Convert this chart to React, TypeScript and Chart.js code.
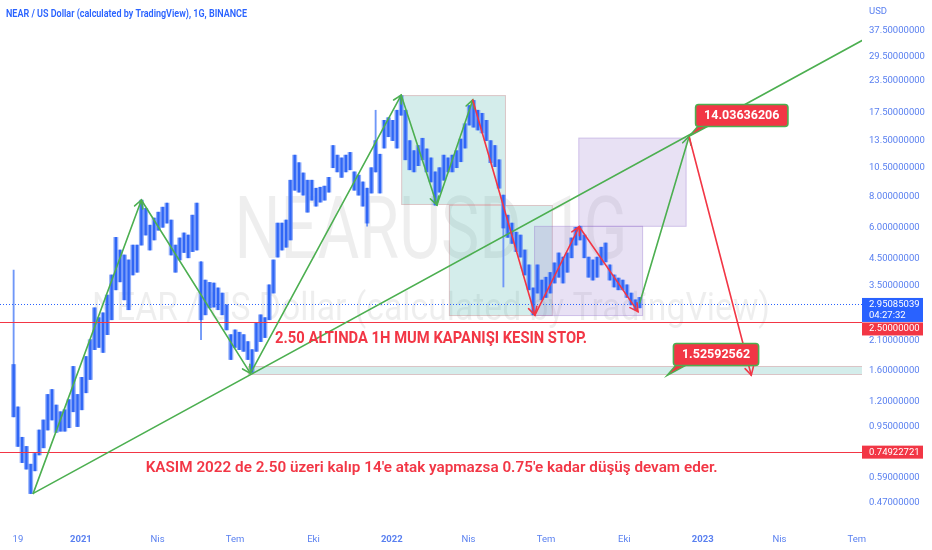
import React, { useEffect, useRef } from 'react';
import { Chart, registerables } from 'chart.js';

Chart.register(...registerables);

const EPOCH = Date.UTC(2021, 0, 1);
const toDay = (s: string) => (Date.parse(s) - EPOCH) / 86400000;

// ---------- candle band (every 5 days) ----------
const candleDates = [
  '2020-10-14','2020-10-19','2020-10-24','2020-10-29','2020-11-03','2020-11-08','2020-11-13','2020-11-18','2020-11-23','2020-11-28',
  '2020-12-03','2020-12-08','2020-12-13','2020-12-18','2020-12-23','2020-12-28','2021-01-02','2021-01-07','2021-01-12','2021-01-17',
  '2021-01-22','2021-01-27','2021-02-01','2021-02-06','2021-02-11','2021-02-16','2021-02-21','2021-02-26','2021-03-03','2021-03-08',
  '2021-03-13','2021-03-18','2021-03-23','2021-03-28','2021-04-02','2021-04-07','2021-04-12','2021-04-17','2021-04-22','2021-04-27',
  '2021-05-02','2021-05-07','2021-05-12','2021-05-17','2021-05-22','2021-05-27','2021-06-01','2021-06-06','2021-06-11','2021-06-16',
  '2021-06-21','2021-06-26','2021-07-01','2021-07-06','2021-07-11','2021-07-16','2021-07-21','2021-07-26','2021-07-31','2021-08-05',
  '2021-08-10','2021-08-15','2021-08-20','2021-08-25','2021-08-30','2021-09-04','2021-09-09','2021-09-14','2021-09-19','2021-09-24',
  '2021-09-29','2021-10-04','2021-10-09','2021-10-14','2021-10-19','2021-10-24','2021-10-29','2021-11-03','2021-11-08','2021-11-13',
  '2021-11-18','2021-11-23','2021-11-28','2021-12-03','2021-12-08','2021-12-13','2021-12-18','2021-12-23','2021-12-28','2022-01-02',
  '2022-01-07','2022-01-12','2022-01-17','2022-01-22','2022-01-27','2022-02-01','2022-02-06','2022-02-11','2022-02-16','2022-02-21',
  '2022-02-26','2022-03-03','2022-03-08','2022-03-13','2022-03-18','2022-03-23','2022-03-28','2022-04-02','2022-04-07','2022-04-12',
  '2022-04-17','2022-04-22','2022-04-27','2022-05-02','2022-05-07','2022-05-12','2022-05-17','2022-05-22','2022-05-27','2022-06-01',
  '2022-06-06','2022-06-11','2022-06-16','2022-06-21','2022-06-26','2022-07-01','2022-07-06','2022-07-11','2022-07-16','2022-07-21',
  '2022-07-26','2022-07-31','2022-08-05','2022-08-10','2022-08-15','2022-08-20','2022-08-25','2022-08-30','2022-09-04','2022-09-09',
  '2022-09-14','2022-09-19','2022-09-24','2022-09-29','2022-10-04','2022-10-09','2022-10-14','2022-10-19',
];
const candleHigh = [
  1.69, 1.14, 0.86, 0.79, 0.67, 0.74, 0.92, 1.01, 1.28, 1.34,
  1.16, 1.09, 1.11, 1.22, 1.66, 1.28, 1.50, 1.82, 2.13, 2.86,
  2.61, 2.73, 3.22, 3.88, 5.50, 4.89, 4.67, 4.46, 5.12, 5.12,
  7.77, 7.20, 6.16, 6.58, 6.95, 7.28, 7.56, 6.46, 5.12, 5.47,
  5.73, 5.62, 6.76, 7.56, 4.38, 3.70, 3.62, 3.60, 3.44, 3.28,
  2.94, 2.23, 2.33, 2.28, 2.23, 2.09, 1.94, 2.49, 2.68, 2.61,
  3.54, 4.46, 6.28, 6.28, 6.46, 9.35, 11.8, 11.0, 10.0, 9.35,
  9.35, 8.68, 8.76, 8.85, 9.60, 12.9, 11.8, 11.5, 11.8, 12.1,
  10.1, 9.80, 9.20, 8.68, 10.5, 13.5, 11.9, 16.3, 16.7, 16.3,
  17.9, 20.5, 17.9, 13.5, 12.3, 12.9, 13.8, 12.5, 11.5, 10.1,
  10.5, 11.8, 11.5, 11.8, 12.3, 13.7, 15.8, 18.7, 19.6, 17.9,
  17.4, 16.3, 13.5, 12.9, 11.3, 8.14, 6.76, 6.28, 5.77, 5.62,
  4.89, 4.26, 3.44, 4.26, 3.70, 3.80, 3.97, 4.34, 4.76, 4.58,
  4.76, 5.47, 6.04, 6.10, 5.62, 4.58, 4.46, 4.58, 5.02, 5.22,
  4.26, 3.88, 3.77, 3.70, 3.54, 3.28, 3.08, 3.15,
];
const candleLow = [
  1.04, 0.79, 0.68, 0.64, 0.51, 0.63, 0.73, 0.78, 0.92, 1.01,
  0.90, 0.91, 0.91, 0.94, 1.09, 0.95, 1.11, 1.30, 1.47, 1.94,
  1.98, 1.89, 2.23, 2.56, 3.38, 3.64, 3.08, 2.81, 3.88, 3.98,
  5.12, 5.62, 4.89, 5.37, 5.88, 6.04, 6.28, 4.67, 3.98, 4.46,
  4.78, 4.55, 4.82, 4.89, 2.56, 2.68, 2.86, 2.88, 2.81, 2.68,
  2.33, 1.77, 1.98, 1.94, 1.91, 1.77, 1.57, 1.91, 2.09, 2.17,
  2.56, 3.28, 4.58, 4.89, 5.02, 5.37, 8.52, 8.37, 8.14, 6.95,
  7.77, 7.35, 7.63, 7.77, 8.37, 10.5, 10.1, 9.60, 10.1, 10.3,
  8.52, 8.14, 7.35, 6.28, 8.30, 10.1, 8.30, 12.6, 14.0, 13.5,
  12.6, 17.1, 11.3, 10.3, 10.1, 10.7, 11.3, 10.1, 9.20, 7.42,
  8.37, 9.35, 10.1, 10.1, 10.5, 11.1, 12.6, 15.6, 15.3, 14.9,
  14.5, 13.5, 11.0, 10.6, 8.68, 6.00, 5.50, 5.20, 4.82, 4.58,
  3.88, 3.38, 2.68, 3.28, 3.08, 3.15, 3.28, 3.60, 3.80, 3.60,
  3.98, 4.55, 5.12, 5.37, 4.55, 3.80, 3.70, 3.80, 4.26, 4.38,
  3.70, 3.47, 3.38, 3.38, 3.15, 2.94, 2.81, 2.86,
];

// long wicks
const wickDates = ['2020-10-14', '2021-05-22', '2021-12-03', '2021-12-13', '2022-05-12'];
const wickHigh = [4.06, 4.38, 8.68, 17.9, 8.14];
const wickLow = [1.04, 2.13, 6.10, 10.1, 3.47];

// ---------- axes ----------
const viewStart = '2020-09-28';
const viewEnd = '2023-07-07';
const priceMin = 0.381;
const priceMax = 49.8;
const xTickDates = ['2020-10-19','2021-01-01','2021-04-01','2021-07-01','2021-10-01','2022-01-01','2022-04-01','2022-07-01','2022-10-01','2023-01-01','2023-04-01','2023-07-01'];
const xTickLabels = ['19','2021','Nis','Tem','Eki','2022','Nis','Tem','Eki','2023','Nis','Tem'];
const yTickValues = [37.5, 29.5, 23.5, 17.5, 13.5, 10.5, 8, 6, 4.5, 3.5, 2.1, 1.6, 1.2, 0.95, 0.59, 0.47];

// ---------- levels ----------
const lastPrice = 2.95085039;
const countdown = '04:27:32';
const stopLevel = 2.5;
const downsideTarget = 0.74922721;

// ---------- drawings ----------
const trendDates = ['2020-11-06', '2023-07-07'];
const trendPrices = [0.511, 34.2];
const rallyDates = ['2020-11-06', '2021-03-13', '2021-07-19', '2022-01-12', '2022-02-23', '2022-04-06'];
const rallyPrices = [0.511, 7.78, 1.557, 20.6, 7.43, 19.7];
const declineDates = ['2022-04-06', '2022-06-18', '2022-08-09', '2022-10-17'];
const declinePrices = [19.7, 2.675, 6.07, 2.76];
const projectionDates = ['2022-10-19', '2022-12-16', '2023-02-27'];
const projectionPrices = [2.99, 14.03636206, 1.53];

const tealZoneStart = ['2022-01-12', '2022-03-09', '2021-07-16'];
const tealZoneEnd = ['2022-05-15', '2022-07-09', '2023-08-31'];
const tealZoneLow = [7.43, 2.65, 1.533];
const tealZoneHigh = [20.6, 7.43, 1.667];
const purpleZoneStart = ['2022-06-17', '2022-08-08'];
const purpleZoneEnd = ['2022-10-23', '2022-12-13'];
const purpleZoneLow = [2.65, 6.07];
const purpleZoneHigh = [6.12, 13.88];

const tagDates = ['2022-12-16', '2022-11-20'];
const tagPrices = [14.03636206, 1.52592562];
const tagTexts = ['14.03636206', '1.52592562'];

const noteStop = '2.50 ALTINDA 1H MUM KAPANIŞI KESIN STOP.';
const noteStopAt: [string, number] = ['2021-08-17', 2.06];
const noteNov = "KASIM 2022 de 2.50 üzeri kalıp 14'e atak yapmazsa 0.75'e kadar düşüş devam eder.";
const noteNovAt: [string, number] = ['2021-03-18', 0.623];

const title = 'NEAR / US Dollar (calculated by TradingView), 1G, BINANCE';
const watermarkSymbol = 'NEARUSD, 1G';
const watermarkName = 'NEAR / US Dollar (calculated by TradingView)';

const FONT = "Roboto, 'Noto Sans', sans-serif";
const AXIS_BLUE = '#5a80f0';
const GREEN = '#4caf50';
const RED = '#f23645';

function fitText(ctx: CanvasRenderingContext2D, text: string, x: number, y: number, width: number, font: string, color: string, align: CanvasTextAlign = 'left') {
  ctx.save();
  ctx.font = font;
  ctx.fillStyle = color;
  ctx.textAlign = align;
  ctx.textBaseline = 'alphabetic';
  const w = ctx.measureText(text).width || 1;
  ctx.translate(x, y);
  ctx.scale(width / w, 1);
  ctx.fillText(text, 0, 0);
  ctx.restore();
}

function arrowLine(ctx: CanvasRenderingContext2D, x0: number, y0: number, x1: number, y1: number, color: string, head: boolean) {
  ctx.strokeStyle = color;
  ctx.lineWidth = 1.6;
  ctx.lineCap = 'round';
  ctx.beginPath();
  ctx.moveTo(x0, y0);
  ctx.lineTo(x1, y1);
  ctx.stroke();
  if (head) {
    const ang = Math.atan2(y1 - y0, x1 - x0);
    const L = 9;
    const w = 0.5;
    ctx.beginPath();
    ctx.moveTo(x1 - L * Math.cos(ang - w), y1 - L * Math.sin(ang - w));
    ctx.lineTo(x1, y1);
    ctx.lineTo(x1 - L * Math.cos(ang + w), y1 - L * Math.sin(ang + w));
    ctx.stroke();
  }
}

function roundRect(ctx: CanvasRenderingContext2D, x: number, y: number, w: number, h: number, r: number) {
  ctx.beginPath();
  ctx.moveTo(x + r, y);
  ctx.lineTo(x + w - r, y);
  ctx.quadraticCurveTo(x + w, y, x + w, y + r);
  ctx.lineTo(x + w, y + h - r);
  ctx.quadraticCurveTo(x + w, y + h, x + w - r, y + h);
  ctx.lineTo(x + r, y + h);
  ctx.quadraticCurveTo(x, y + h, x, y + h - r);
  ctx.lineTo(x, y + r);
  ctx.quadraticCurveTo(x, y, x + r, y);
  ctx.closePath();
}

function priceTag(ctx: CanvasRenderingContext2D, ax: number, ay: number, text: string) {
  ctx.save();
  ctx.font = `bold 12.5px ${FONT}`;
  const tw = ctx.measureText(text).width;
  const w = tw + 17;
  const h = 22;
  const left = ax + 6.5;
  const bottom = ay - 10;
  const top = bottom - h;
  ctx.beginPath();
  ctx.moveTo(left + 3, bottom - 1);
  ctx.lineTo(left + 14, bottom - 1);
  ctx.lineTo(ax, ay);
  ctx.closePath();
  ctx.fillStyle = RED;
  ctx.fill();
  ctx.strokeStyle = GREEN;
  ctx.lineWidth = 1.4;
  ctx.stroke();
  roundRect(ctx, left, top, w, h, 3);
  ctx.fillStyle = RED;
  ctx.fill();
  ctx.strokeStyle = GREEN;
  ctx.lineWidth = 1.6;
  ctx.stroke();
  ctx.fillStyle = '#ffffff';
  ctx.textAlign = 'center';
  ctx.textBaseline = 'middle';
  ctx.fillText(text, left + w / 2, top + h / 2 + 0.5);
  ctx.restore();
}

const drawings = {
  id: 'drawings',
  beforeDatasetsDraw(chart: any) {
    const { ctx, chartArea: a, scales } = chart;
    const px = (d: string) => scales.x.getPixelForValue(toDay(d));
    const py = (p: number) => scales.y.getPixelForValue(p);
    ctx.save();
    ctx.beginPath();
    ctx.rect(a.left, a.top, a.right - a.left, a.bottom - a.top);
    ctx.clip();
    const cx = (a.left + a.right) / 2;
    fitText(ctx, watermarkSymbol, cx, a.top + 258, 393, `87px ${FONT}`, 'rgba(0,0,0,0.065)', 'center');
    fitText(ctx, watermarkName, cx, a.top + 320, 678, `38px ${FONT}`, 'rgba(0,0,0,0.065)', 'center');

    const zone = (d0: string, d1: string, lo: number, hi: number, fill: string, stroke: string) => {
      const x0 = px(d0), x1 = px(d1), y0 = py(hi), y1 = py(lo);
      ctx.fillStyle = fill;
      ctx.fillRect(x0, y0, x1 - x0, y1 - y0);
      ctx.strokeStyle = stroke;
      ctx.lineWidth = 1;
      ctx.strokeRect(x0 + 0.5, y0 + 0.5, x1 - x0 - 1, y1 - y0 - 1);
    };
    tealZoneStart.forEach((d, i) => zone(d, tealZoneEnd[i], tealZoneLow[i], tealZoneHigh[i], 'rgba(38,166,154,0.2)', 'rgba(242,54,69,0.22)'));
    purpleZoneStart.forEach((d, i) => zone(d, purpleZoneEnd[i], purpleZoneLow[i], purpleZoneHigh[i], 'rgba(149,117,205,0.22)', 'rgba(149,117,205,0.3)'));
    ctx.restore();
  },
  afterDatasetsDraw(chart: any) {
    const { ctx, chartArea: a, scales } = chart;
    const px = (d: string) => scales.x.getPixelForValue(toDay(d));
    const py = (p: number) => scales.y.getPixelForValue(p);
    ctx.save();
    ctx.beginPath();
    ctx.rect(a.left, a.top, a.right - a.left, a.bottom - a.top);
    ctx.clip();

    const hline = (p: number, color: string, dash: number[]) => {
      const y = Math.round(py(p)) + 0.5;
      ctx.strokeStyle = color;
      ctx.lineWidth = 1;
      ctx.setLineDash(dash);
      ctx.beginPath();
      ctx.moveTo(a.left, y);
      ctx.lineTo(a.right, y);
      ctx.stroke();
      ctx.setLineDash([]);
    };
    hline(lastPrice, '#2962ff', [1, 2]);
    hline(stopLevel, RED, []);
    hline(downsideTarget, RED, []);

    arrowLine(ctx, px(trendDates[0]), py(trendPrices[0]), px(trendDates[1]), py(trendPrices[1]), GREEN, false);
    for (let i = 0; i < rallyDates.length - 1; i++) {
      arrowLine(ctx, px(rallyDates[i]), py(rallyPrices[i]), px(rallyDates[i + 1]), py(rallyPrices[i + 1]), GREEN, true);
    }
    for (let i = 0; i < declineDates.length - 1; i++) {
      arrowLine(ctx, px(declineDates[i]), py(declinePrices[i]), px(declineDates[i + 1]), py(declinePrices[i + 1]), RED, true);
    }
    arrowLine(ctx, px(projectionDates[0]), py(projectionPrices[0]), px(projectionDates[1]), py(projectionPrices[1]), GREEN, true);
    arrowLine(ctx, px(projectionDates[1]), py(projectionPrices[1]), px(projectionDates[2]), py(projectionPrices[2]), RED, true);

    fitText(ctx, noteStop, px(noteStopAt[0]), py(noteStopAt[1]), 312, `bold 17px ${FONT}`, RED);
    fitText(ctx, noteNov, px(noteNovAt[0]), py(noteNovAt[1]), 572, `600 15.5px ${FONT}`, RED);

    tagDates.forEach((d, i) => priceTag(ctx, px(d), py(tagPrices[i]), tagTexts[i]));
    ctx.restore();
  },
  afterDraw(chart: any) {
    const { ctx, chartArea: a, scales } = chart;
    const py = (p: number) => scales.y.getPixelForValue(p);
    ctx.save();
    const bx = a.right;
    const bw = 61;
    const tx = bx + 7;
    ctx.font = `9.5px ${FONT}`;
    ctx.textBaseline = 'middle';
    ctx.textAlign = 'left';
    const yl = py(lastPrice);
    ctx.fillStyle = '#2962ff';
    ctx.fillRect(bx, yl - 6.5, bw, 24);
    ctx.fillStyle = '#ffffff';
    ctx.fillText(lastPrice.toFixed(8), tx, yl);
    ctx.fillText(countdown, tx, yl + 11);
    const stopTop = Math.max(py(stopLevel) - 6.5, yl + 18);
    ctx.fillStyle = RED;
    ctx.fillRect(bx, stopTop, bw, 13);
    ctx.fillStyle = '#ffffff';
    ctx.fillText(stopLevel.toFixed(8), tx, stopTop + 6.5);
    const yt = py(downsideTarget);
    ctx.fillStyle = RED;
    ctx.fillRect(bx, yt - 6.5, bw, 13);
    ctx.fillStyle = '#ffffff';
    ctx.fillText(downsideTarget.toFixed(8), tx, yt);

    ctx.fillStyle = AXIS_BLUE;
    ctx.textBaseline = 'alphabetic';
    ctx.fillText('USD', tx, 14);
    fitText(ctx, title, 6, 16.5, 241, `600 10px ${FONT}`, '#2962ff');
    ctx.restore();
  },
};

export default function App() {
  const ref = useRef<HTMLCanvasElement>(null);
  useEffect(() => {
    document.body.style.margin = '0';
    const xTickDays = xTickDates.map(toDay);
    const bandData = candleDates.map((d, i) => ({ x: toDay(d), y: [candleLow[i], candleHigh[i]] }));
    const chart = new Chart(ref.current as HTMLCanvasElement, {
      type: 'bar',
      data: {
        datasets: [
          {
            label: 'wicks',
            data: wickDates.map((d, i) => ({ x: toDay(d), y: [wickLow[i], wickHigh[i]] })) as any,
            backgroundColor: '#6f97f8',
            barThickness: 1.2,
            grouped: false,
            order: 3,
          } as any,
          {
            label: 'range',
            data: bandData as any,
            backgroundColor: 'rgba(98,140,248,0.7)',
            barThickness: 4.3,
            grouped: false,
            order: 2,
          } as any,
          {
            label: 'NEARUSD',
            data: bandData as any,
            backgroundColor: '#2f66f6',
            barThickness: 1.7,
            grouped: false,
            order: 1,
          } as any,
        ],
      },
      options: {
        animation: false,
        responsive: false,
        maintainAspectRatio: false,
        layout: { padding: 0 },
        plugins: { legend: { display: false }, tooltip: { enabled: false } },
        scales: {
          x: {
            type: 'linear',
            min: toDay(viewStart),
            max: toDay(viewEnd),
            offset: false,
            grid: { display: false, drawTicks: false },
            border: { display: false },
            ticks: {
              autoSkip: false,
              maxRotation: 0,
              padding: 9,
              color: AXIS_BLUE,
              font: (c: any) => {
                const idx = xTickDays.indexOf(c.tick ? c.tick.value : NaN);
                const lbl = idx >= 0 ? xTickLabels[idx] : '';
                return { family: FONT, size: 9.5, weight: /^\d{4}$/.test(lbl) ? 'bold' : 'normal' };
              },
              callback: (v: any) => {
                const idx = xTickDays.indexOf(Number(v));
                return idx >= 0 ? xTickLabels[idx] : '';
              },
            },
            afterBuildTicks: (s: any) => {
              s.ticks = xTickDays.map((v) => ({ value: v }));
            },
            afterFit: (s: any) => {
              s.height = 25;
              s.paddingLeft = 0;
              s.paddingRight = 0;
            },
          } as any,
          y: {
            type: 'logarithmic',
            position: 'right',
            min: priceMin,
            max: priceMax,
            grid: { display: false, drawTicks: false },
            border: { display: false },
            ticks: {
              padding: 7,
              color: AXIS_BLUE,
              font: { family: FONT, size: 9.5 },
              callback: (v: any) => Number(v).toFixed(8),
            },
            afterBuildTicks: (s: any) => {
              s.ticks = yTickValues.map((v) => ({ value: v }));
            },
            afterFit: (s: any) => {
              s.width = 70;
              s.paddingTop = 0;
              s.paddingBottom = 0;
            },
          } as any,
        },
      },
      plugins: [drawings as any],
    });
    return () => chart.destroy();
  }, []);
  return (
    <div style={{ width: 932, height: 550, background: '#ffffff' }}>
      <canvas ref={ref} width={932} height={550} style={{ display: 'block', width: 932, height: 550 }} />
    </div>
  );
}
